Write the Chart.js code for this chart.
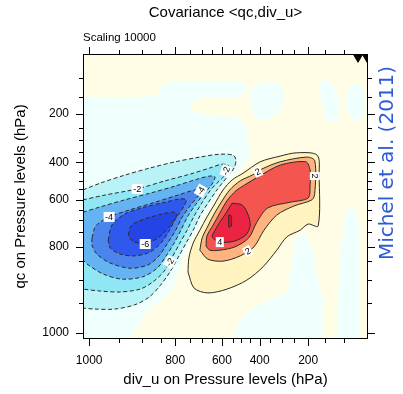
<!DOCTYPE html>
<html>
<head>
<meta charset="utf-8">
<script src="https://cdn.jsdelivr.net/npm/chart.js"></script>
<style>
  html, body { margin: 0; padding: 0; background: #fff; }
</style>
</head>
<body>
<canvas id="myChart" width="403" height="394"></canvas>
<script>
// both axes use a model-level coordinate: 0 = bottom/left edge, 60 = top/right edge
var tickPressure = [1000, 950, 900, 850, 800, 750, 700, 650, 600, 550, 500, 450, 400, 350, 300, 250, 200, 150, 100];
var tickLevel = [1.3, 7.6, 12.5, 16.4, 19.4, 22.5, 25.1, 27.1, 29.25, 31.5, 33.3, 35.2, 37.2, 39.35, 41.85, 44.5, 47.4, 51.0, 55.05];

// zero line: positive (0..1) side, then small negative patches inside it
var zeroPositive = [[0,60],[60,60],[60,0],[9.9,0],[13.7,6.1],[16.8,8.2],[18.7,10.3],[19.6,12.4],[20.2,14.1],[21.2,17.1],[22.4,20.2],[23.9,22.9],[25.5,25.9],[27.2,28.6],[28.8,31.4],[31.6,34.3],[34.9,37.7],[35.2,40.2],[34.5,44.4],[32.6,46.7],[26.7,47.2],[22.9,48.0],[22.5,49.7],[24.6,50.7],[33.0,50.9],[34.7,52.4],[33.5,54.1],[18.3,54.3],[16.6,53.3],[15.8,51.2],[7.8,50.7],[0,50.9]];
var zeroNegA = [[31.6,0],[32.6,3.6],[35.6,6.5],[39.4,8.2],[43.2,10.3],[44.0,16.6],[44.8,21.3],[46.9,22.5],[48.2,19.8],[49.5,12.4],[50.5,8.2],[50.5,0]];
var zeroNegB = [[53.5,0],[53.7,8.2],[54.1,18.7],[55.2,26.1],[56.6,28.2],[57.9,26.1],[58.3,16.6],[58.3,0]];
var zeroNegC = [[35.2,52.4],[37.7,54.1],[41.5,53.9],[42.5,51.4],[41.5,47.8],[38.9,46.1],[36.2,46.5],[35.2,49.3]];
var zeroNegD = [[49.5,53.7],[51.2,54.5],[52.8,53.3],[54.1,50.3],[53.7,45.7],[51.2,45.7],[50.3,49.3]];
var zeroNegE = [[55.6,52.8],[57.5,54.1],[59.2,52.4],[59.4,47.2],[57.3,45.7],[55.4,48.2]];

// negative contours -1 .. -6
var levelM1 = [[0,31.4],[3.6,32.8],[8.8,34.5],[14.1,36.0],[19.4,37.3],[24.6,38.3],[28.8,38.9],[31.6,38.7],[32.2,37.7],[31.8,36.0],[30.5,34.3],[29.3,32.8],[28.2,31.4],[26.3,28.6],[24.6,25.9],[23.2,22.9],[21.7,20.2],[20.0,17.1],[18.3,14.1],[16.2,11.2],[13.9,8.8],[10.9,7.2],[6.7,6.3],[2.5,6.3],[0,6.5]];
var levelM2 = [[0,29.3],[4.6,30.3],[11.4,31.6],[17.3,33.3],[22.5,34.7],[26.7,36.0],[29.3,36.8],[30.7,36.4],[29.7,34.3],[28.2,32.8],[26.9,31.4],[25.0,28.6],[23.4,25.9],[21.9,22.9],[20.4,20.2],[18.7,17.1],[17.1,14.3],[14.7,12.0],[12.0,10.5],[7.8,9.9],[3.6,10.1],[0,10.5]];
var levelM3 = [[0,26.7],[3.6,27.8],[8.8,29.3],[14.1,30.7],[19.4,32.2],[24.2,33.7],[26.7,34.3],[27.8,34.1],[26.9,32.2],[25.7,30.9],[23.8,28.4],[22.1,25.9],[20.6,22.9],[19.2,20.2],[17.5,17.5],[15.6,14.9],[12.6,13.1],[8.2,12.6],[4.2,13.7],[1.1,15.6],[0,16.6]];
var levelM4 = [[1.9,21.3],[2.7,23.8],[5.5,25.7],[9.9,27.2],[15.2,28.8],[20.0,30.3],[23.6,31.4],[24.8,31.4],[24.4,30.3],[22.5,28.0],[20.8,25.5],[19.4,22.7],[17.7,20.0],[16.0,17.5],[13.7,15.6],[9.9,14.9],[5.7,16.0],[2.9,17.9],[1.9,19.8],[1.9,21.3]];
var levelM5 = [[5.3,20.8],[6.1,24.0],[8.8,26.3],[13.1,27.8],[17.3,28.8],[20.4,29.5],[21.7,29.3],[21.3,28.0],[19.6,25.5],[18.1,22.7],[16.4,20.2],[14.1,18.3],[10.9,17.5],[7.8,17.9],[5.7,19.2],[5.3,20.8]];
var levelM6 = [[9.5,21.9],[10.3,24.0],[13.1,25.3],[16.6,26.3],[19.2,26.7],[19.8,26.1],[18.1,23.6],[15.8,21.3],[13.1,20.0],[10.5,20.6],[9.5,21.9]];

// positive contours 1 .. 5
var levelP1 = [[22.1,14.1],[22.3,17.1],[23.2,20.2],[24.6,22.9],[26.1,25.7],[27.6,28.2],[29.5,31.4],[31.4,33.5],[33.7,34.9],[37.3,37.3],[41.5,38.5],[45.0,39.2],[49.3,38.7],[49.7,34.5],[49.5,23.8],[47.4,24.2],[45.7,22.9],[42.9,21.5],[40.8,18.7],[37.9,15.2],[34.5,12.4],[30.3,10.5],[26.3,9.7],[23.4,10.7],[22.1,14.1]];
var levelP2 = [[24.6,18.7],[25.1,21.3],[26.3,23.8],[27.6,26.3],[29.1,28.8],[30.9,31.4],[33.1,33.3],[35.6,34.5],[37.7,35.8],[41.5,37.3],[47.2,38.3],[48.8,37.5],[48.8,30.7],[48.2,29.3],[44.4,28.0],[40.8,26.1],[38.1,22.9],[36.0,19.4],[33.1,17.5],[29.5,16.4],[26.3,16.8],[24.6,18.7]];
var levelP3 = [[25.9,19.6],[26.1,21.7],[27.4,24.0],[28.8,26.5],[30.3,29.1],[32.2,31.2],[34.3,32.6],[36.8,34.1],[41.5,36.6],[46.9,37.3],[47.8,35.6],[47.8,32.4],[47.4,29.7],[43.6,28.8],[38.9,27.6],[36.6,24.6],[34.9,21.3],[32.0,19.4],[28.8,18.7],[26.7,18.7],[25.9,19.6]];
var levelP4 = [[31.4,28.6],[33.5,28.2],[34.7,26.3],[35.2,24.0],[34.3,21.9],[31.8,20.6],[28.8,20.4],[27.2,21.5],[27.8,22.9],[28.8,24.6],[30.1,26.5],[31.4,28.6]];
var levelP5 = [[30.7,26.1],[31.2,25.9],[31.2,23.8],[30.7,23.6],[30.7,26.1]];

// contour labels
var labelText = ['-2', '-2', '-2', '-4', '-4', '-6', '2', '2', '2', '4'];
var labelX = [11.4, 30.1, 18.3, 5.5, 24.8, 13.1, 36.8, 34.7, 48.8, 28.8];
var labelY = [31.6, 35.4, 16.2, 25.7, 31.2, 20.0, 35.2, 18.5, 34.3, 20.4];
var labelAngle = [0, -70, -60, 0, -60, 0, -25, -30, 90, 0];

// markers at the top right corner
var markX = [57.9, 59.8];
var markY = [59.3, 59.3];

var negFill = ['#b9f3f8', '#8fe6f4', '#64b3f2', '#4c84ee', '#2f58ec', '#2444e6'];
var posFill = ['#fff3bf', '#fdb47e', '#f4564f', '#ec2444', '#d81034'];

Chart.defaults.font.family = '"Liberation Sans", Arial, sans-serif';

function pts(a) {
    return a.map(function (p) { return { x: p[0], y: p[1] }; });
}
function area(points, color) {
    return { data: pts(points), fill: 'shape', backgroundColor: color, borderColor: 'rgba(0,0,0,0)',
             borderWidth: 0, pointRadius: 0, tension: 0 };
}
function contour(points, color, dashed) {
    return { data: pts(points), fill: 'shape', backgroundColor: color, borderColor: '#2b2b2b',
             borderWidth: 1, borderDash: dashed ? [4, 2.5] : [], pointRadius: 0, tension: 0.3 };
}

var datasets = [
    area(zeroPositive, '#fffde6'),
    area(zeroNegA, '#effffc'), area(zeroNegB, '#effffc'), area(zeroNegC, '#effffc'),
    area(zeroNegD, '#effffc'), area(zeroNegE, '#effffc'),
    contour(levelM1, negFill[0], true), contour(levelM2, negFill[1], true),
    contour(levelM3, negFill[2], true), contour(levelM4, negFill[3], true),
    contour(levelM5, negFill[4], true), contour(levelM6, negFill[5], true),
    contour(levelP1, posFill[0], false), contour(levelP2, posFill[1], false),
    contour(levelP3, posFill[2], false), contour(levelP4, posFill[3], false),
    contour(levelP5, posFill[4], false),
    { data: markX.map(function (x, i) { return { x: x, y: markY[i] }; }), showLine: false,
      pointStyle: 'triangle', pointRotation: 180, pointRadius: 5,
      backgroundColor: '#000', borderColor: '#000' }
];
datasets.forEach(function (d, i) { d.order = -i; });

var decor = {
    id: 'decor',
    beforeDraw: function (chart) {
        var c = chart.ctx, a = chart.chartArea;
        c.save();
        c.fillStyle = '#fff';
        c.fillRect(0, 0, chart.width, chart.height);
        c.fillStyle = '#effffc';
        c.fillRect(a.left, a.top, a.right - a.left, a.bottom - a.top);
        c.restore();
    },
    afterDatasetsDraw: function (chart) {
        var c = chart.ctx, xs = chart.scales.x, ys = chart.scales.y;
        c.save();
        c.font = '9px "Liberation Sans", Arial, sans-serif';
        c.textAlign = 'center';
        c.textBaseline = 'middle';
        labelText.forEach(function (t, i) {
            c.save();
            c.translate(xs.getPixelForValue(labelX[i]), ys.getPixelForValue(labelY[i]));
            c.rotate(labelAngle[i] * Math.PI / 180);
            var w = c.measureText(t).width + 3;
            c.fillStyle = '#fff';
            c.fillRect(-w / 2, -5, w, 10);
            c.fillStyle = '#000';
            c.fillText(t, 0, 0.5);
            c.restore();
        });
        c.restore();
    },
    afterDraw: function (chart) {
        var c = chart.ctx, a = chart.chartArea, xs = chart.scales.x, ys = chart.scales.y;
        c.save();
        c.strokeStyle = '#000';
        c.lineWidth = 1;
        c.strokeRect(a.left + 0.5, a.top + 0.5, a.right - a.left - 1, a.bottom - a.top - 1);
        c.beginPath();
        tickLevel.forEach(function (v, i) {
            var len = tickPressure[i] % 200 === 0 ? 7 : 4;
            var px = Math.round(xs.getPixelForValue(v)) + 0.5;
            var py = Math.round(ys.getPixelForValue(v)) + 0.5;
            c.moveTo(px, a.bottom); c.lineTo(px, a.bottom + len);
            c.moveTo(px, a.top); c.lineTo(px, a.top - len);
            c.moveTo(a.left, py); c.lineTo(a.left - len, py);
            c.moveTo(a.right, py); c.lineTo(a.right + len, py);
        });
        c.stroke();

        c.fillStyle = '#000';
        c.textAlign = 'center';
        c.textBaseline = 'middle';
        c.font = '15px "Liberation Sans", Arial, sans-serif';
        c.fillText('Covariance <qc,div_u>', (a.left + a.right) / 2, 13);
        c.textAlign = 'left';
        c.font = '11.5px "Liberation Sans", Arial, sans-serif';
        c.fillText('Scaling 10000', a.left, 38);

        c.translate(388, 163);
        c.rotate(-Math.PI / 2);
        c.textAlign = 'center';
        c.fillStyle = '#2d5bd6';
        c.font = '20px "DejaVu Sans", sans-serif';
        c.fillText('Michel et al. (2011)', 0, 0);
        c.restore();
    }
};

var myChart = new Chart(document.getElementById('myChart'), {
    type: 'line',
    data: { datasets: datasets },
    plugins: [decor],
    options: {
        responsive: false,
        animation: false,
        devicePixelRatio: 1,
        layout: { padding: { top: 54, right: 35, left: 0, bottom: 0 } },
        plugins: { legend: { display: false }, tooltip: { enabled: false } },
        scales: {
            x: {
                type: 'linear', min: 0, max: 60,
                afterBuildTicks: function (s) { s.ticks = tickLevel.map(function (v) { return { value: v }; }); },
                afterFit: function (s) { s.height = 55; },
                grid: { display: false, drawTicks: false },
                border: { display: false },
                ticks: {
                    autoSkip: false, maxRotation: 0, padding: 14, color: '#000', font: { size: 12 },
                    callback: function (v, i) { return tickPressure[i] % 200 === 0 ? String(tickPressure[i]) : ''; }
                },
                title: { display: true, text: 'div_u on Pressure levels (hPa)', color: '#000',
                         font: { size: 15 }, padding: { top: 0, bottom: 5 } }
            },
            y: {
                type: 'linear', min: 0, max: 60,
                afterBuildTicks: function (s) { s.ticks = tickLevel.map(function (v) { return { value: v }; }); },
                afterFit: function (s) { s.width = 83; },
                grid: { display: false, drawTicks: false },
                border: { display: false },
                ticks: {
                    autoSkip: false, padding: 14, color: '#000', font: { size: 12 },
                    callback: function (v, i) { return tickPressure[i] % 200 === 0 ? String(tickPressure[i]) : ''; }
                },
                title: { display: true, text: 'qc on Pressure levels (hPa)', color: '#000',
                         font: { size: 15 }, padding: { top: 12, bottom: 0 } }
            }
        }
    }
});
</script>
</body>
</html>
